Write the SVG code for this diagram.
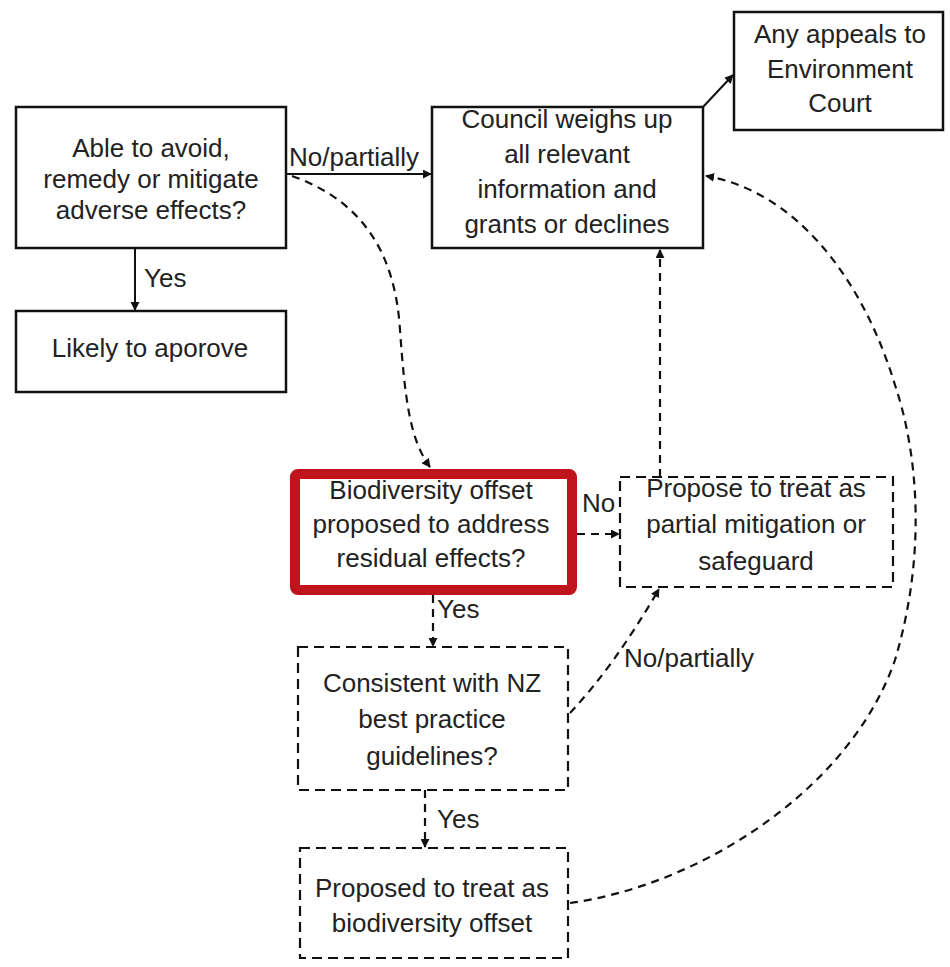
<svg xmlns="http://www.w3.org/2000/svg" width="950" height="967" viewBox="0 0 950 967">
  <style>
    .box { fill: #ffffff; stroke: #111111; stroke-width: 2.5; }
    .dbox { fill: #ffffff; stroke: #111111; stroke-width: 2.2; stroke-dasharray: 10 6; }
    .key { fill: #ffffff; stroke: #c0141c; stroke-width: 10; }
    .t { font-family: "Liberation Sans", Arial, sans-serif; font-size: 26px; fill: #222222; text-anchor: middle; }
    .lbl { font-family: "Liberation Sans", Arial, sans-serif; font-size: 26px; fill: #222222; }
    .line { fill: none; stroke: #111111; stroke-width: 2; }
    .dash { fill: none; stroke: #111111; stroke-width: 2.2; stroke-dasharray: 8 6; }
  </style>
  <defs>
    <marker id="head" viewBox="0 0 10 10" refX="9" refY="5" markerWidth="9" markerHeight="9" markerUnits="userSpaceOnUse" orient="auto">
      <path d="M0,0 L10,5 L0,10 z" fill="#111111"/>
    </marker>
  </defs>

  <!-- connectors -->
  <g id="connectors">
    <line class="line" x1="135" y1="248" x2="135" y2="310" marker-end="url(#head)"/>
    <line class="line" x1="286" y1="174" x2="431" y2="174" marker-end="url(#head)"/>
    <line class="line" x1="703" y1="107" x2="733" y2="75" marker-end="url(#head)"/>
    <path class="dash" d="M 292 176 C 360 200, 395 250, 400 330 C 405 400, 410 440, 430 467" marker-end="url(#head)"/>
    <line class="dash" x1="577" y1="534" x2="619" y2="534" marker-end="url(#head)"/>
    <line class="dash" x1="660" y1="477" x2="660" y2="250" marker-end="url(#head)"/>
    <line class="dash" x1="433" y1="595" x2="433" y2="646" marker-end="url(#head)"/>
    <path class="dash" d="M 570 713 Q 615 665 659 589" marker-end="url(#head)"/>
    <line class="dash" x1="425" y1="790" x2="425" y2="847" marker-end="url(#head)"/>
    <path class="dash" d="M 570 903 C 700 885, 850 790, 895 660 C 925 560, 920 460, 895 385 C 860 270, 790 190, 706 176" marker-end="url(#head)"/>
    <text class="lbl" x="289" y="166">No/partially</text>
    <text class="lbl" x="144" y="287">Yes</text>
    <text class="lbl" x="582" y="512">No</text>
    <text class="lbl" x="437" y="618">Yes</text>
    <text class="lbl" x="624" y="667">No/partially</text>
    <text class="lbl" x="437" y="828">Yes</text>
  </g>

  <g id="avoid">
    <rect class="box" x="16" y="107" width="270" height="141"/>
    <text class="t" x="151" y="157">Able to avoid,</text>
    <text class="t" x="151" y="188">remedy or mitigate</text>
    <text class="t" x="151" y="219">adverse effects?</text>
  </g>

  <g id="likely">
    <rect class="box" x="16" y="311" width="270" height="81"/>
    <text class="t" x="150" y="357">Likely to aporove</text>
  </g>

  <g id="council">
    <rect class="box" x="432" y="107" width="271" height="141"/>
    <text class="t" x="567" y="128">Council weighs up</text>
    <text class="t" x="567" y="163">all relevant</text>
    <text class="t" x="567" y="198">information and</text>
    <text class="t" x="567" y="233">grants or declines</text>
  </g>

  <g id="appeals">
    <rect class="box" x="734" y="12" width="209" height="118"/>
    <text class="t" x="840" y="43">Any appeals to</text>
    <text class="t" x="840" y="78">Environment</text>
    <text class="t" x="840" y="112">Court</text>
  </g>

  <g id="offset-question">
    <rect class="key" x="295" y="474" width="277" height="116" rx="3"/>
    <text class="t" x="431" y="499">Biodiversity offset</text>
    <text class="t" x="431" y="533">proposed to address</text>
    <text class="t" x="431" y="567">residual effects?</text>
  </g>

  <g id="partial">
    <rect class="dbox" x="620" y="477" width="273" height="110"/>
    <text class="t" x="756" y="497">Propose to treat as</text>
    <text class="t" x="756" y="533">partial mitigation or</text>
    <text class="t" x="756" y="570">safeguard</text>
  </g>

  <g id="consistent">
    <rect class="dbox" x="298" y="647" width="270" height="143"/>
    <text class="t" x="432" y="692">Consistent with NZ</text>
    <text class="t" x="432" y="728">best practice</text>
    <text class="t" x="432" y="765">guidelines?</text>
  </g>

  <g id="treat-offset">
    <rect class="dbox" x="300" y="848" width="268" height="110"/>
    <text class="t" x="432" y="897">Proposed to treat as</text>
    <text class="t" x="432" y="932">biodiversity offset</text>
  </g>
</svg>
